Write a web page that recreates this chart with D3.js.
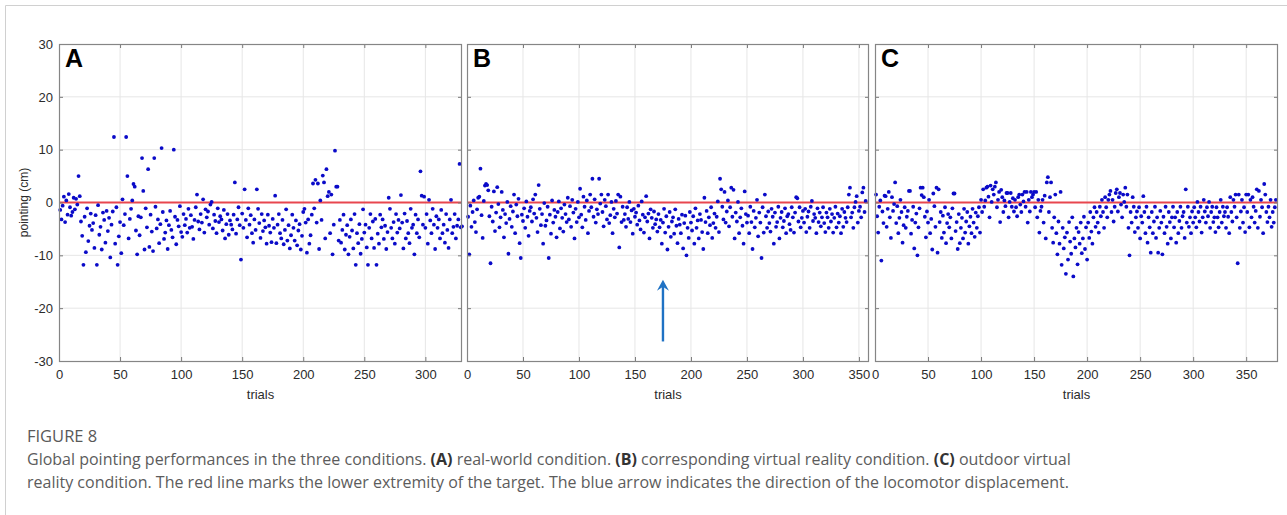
<!DOCTYPE html>
<html>
<head>
<meta charset="utf-8">
<script src="https://cdn.jsdelivr.net/npm/d3@7"></script>
<style>
  body { margin: 0; background: #fff; }
</style>
</head>
<body>
<svg id="fig" width="1287" height="515"></svg>
<script>
// ========= Data (pointing error in cm, one value per trial) ========= //
const pointingA = [
  -1.4, -3.2, -0.6, 1.1, -3.7, 0.4, -2.3, 1.6, -0.9, -2.5,
  -1.8, 0.9, -1.3, 0.7, -0.4, 5, 1.2, -3.6, -6.3, -11.8,
  -2.7, -9.4, -1.1, -7.3, -4.4, -2.1, -5.2, -3.9, -8.6, -2.4,
  -11.8, -0.5, -6.1, -4.6, -8.9, -1.9, -3.3, -7.6, -1.6, -5.4,
  -2.9, -10.4, -4.2, -1.7, 12.4, -7.8, -0.9, -11.8, -6.4, -3.7,
  -9.6, 0.6, -4.3, -2.2, 12.4, 5, -6.8, -3.1, -1.2, 0.4,
  3.5, 3, -5.3, -9.8, -2.6, -6.2, -2.8, 8.4, 2.2, -8.9,
  -1.1, -4.7, 6.3, -8.4, -2.3, -5.5, -9.2, 8.4, -0.8, -4.9,
  -3.2, -7.7, -4.1, 10.3, -1.8, -6.9, -5.7, -3.4, -8.8, -4.3,
  -1.6, -5.2, -6.6, 10, -2.7, -7.9, -3.3, -4.5, -0.7, -5.6,
  -6.5, -2.2, -4.3, -3.1, -5.7, -1.2, -4.8, -2.4, -4.6, -6.9,
  -3.3, -0.9, 1.5, -3.6, -5.1, -2.2, -3.8, 0.6, -5.7, -1.3,
  -2.8, -1.7, -4.2, -0.4, 0.1, -4.9, -2.3, -3.5, -5.8, -1.1,
  -3.7, -2.6, -3.2, -5.3, -1.4, -6.8, -4.1, -2.2, -6.1, -3.4,
  -4.2, -5.1, -2.3, 3.8, -5.9, -3.2, -0.9, -4.3, -10.8, -2.1,
  -4.8, 2.5, -3.3, -6.6, -1.1, -4.2, -2.4, -5.8, -7.6, -3.2,
  -5.2, 2.5, -1.2, -3.9, -6.7, -2.2, -5.4, -3.4, -4.7, -7.8,
  -2.3, -4.4, -5.7, -7.5, -3.1, -4.8, 1.3, -7.7, -4.2, -2.2,
  -5.8, -6.8, -3.3, -7.9, -5.2, -1.3, -7.2, -4.3, -8.7, -6.2,
  -2.3, -4.8, -7.2, -3.4, -8.1, -5.3, -4.1, -8.9, -6.3, -1.8,
  -1.2, -3.8, -9.5, -3.2, -7.8, -6.2, -2.3, 3.6, -1.1, 4.3,
  -3.8, 3.6, -8.8, 0.4, -3.3, 5.1, 3.8, -6.8, 6.3, 1.2,
  2, -5.8, 1.5, -9.8, -4.2, 9.8, 3, 3, -7.2, -3.3,
  -7.6, -5.2, -2.3, -8.9, -6.1, -4.3, -9.8, -6.5, -3.2, -5.3,
  -8.7, -2.2, -11.8, -5.8, -7.7, -4.1, -9.7, -6.9, -1.3, -5.7,
  -4.2, -8.5, -11.8, -4.8, -2.2, -6.8, -3.6, -8.6, -3.1, -11.8,
  -5.9, -7.8, -2.3, -4.7, -3.2, -6.9, -4.4, -8.8, -5.6, 0.9,
  -1.2, -4.8, -6.8, -3.7, -7.8, -2.2, -5.7, -3.3, -4.9, 1.4,
  -3.8, -8.7, -2.1, -6.8, -3.5, -5.8, -7.7, -1.2, -4.8, -4.2,
  -9.8, -2.3, -5.8, -3.2, -6.6, 5.9, 1.3, -4.2, 1.1, -4.8,
  -2.2, -7.8, 0.5, -3.4, -5.8, -1.2, -4.2, -8.8, -2.6, -4.8,
  -3.2, -6.8, -1.4, -5.8, -4.2, -7.6, -2.2, -5.2, -8.6, -3.2,
  0.5, -5.8, -4.6, -2.2, -6.8, -4.4, -3.2, 7.3, -4.7, -4.5
];

const pointingB = [
  -2.7, -9.8, -0.6, -4.6, -1.8, 0.4, -3.7, -5.6, -1.3, 0.9,
  1.1, 6.4, -2.4, -6.7, 0.3, 3.2, 3.5, 3.3, 2.3, -2.6,
  -11.5, -0.8, -3.6, 2.1, -5.4, -1.9, 2.9, -0.3, -4.7, -2.8,
  2, -1.4, -6.6, -2.2, -3.9, 0.1, -9.7, -3.1, -0.7, -4.6,
  -1.7, 1.5, -5.8, -0.4, -2.6, 0.7, -7.7, -10.5, -2.3, -3.5,
  -1.1, -4.8, 0.2, -2.7, -6.3, -1.6, -0.9, -3.6, 0.6, -2.1,
  1.5, -2.9, -5.6, 3.3, -1.2, -4.3, -2.2, -7.8, -0.1, -4.4,
  -3.4, -0.8, -10.5, -2.3, -5.9, 0.4, -3.8, -1.4, -2.7, -6.6,
  -1.8, 0.2, -4.9, -1.1, -2.9, -5.5, -0.4, -2.2, -3.7, 0.9,
  -3.2, -0.7, -4.6, 0.5, -1.9, -6.8, -1.2, -3.7, 0.1, -2.8,
  2.6, -2.3, -4.7, 1.1, -0.8, -3.3, 0.4, -5.8, -1.6, 1.5,
  -0.9, 4.5, -2.7, 0.6, -3.8, -1.3, -2.2, 4.5, -0.2, 1.5,
  -1.8, -4.5, 0.5, -0.7, -3.2, 1.5, -3.9, -2.4, 0.1, -5.8,
  -1.2, -2.8, 0.3, -2.1, 1.5, -8.5, 1.1, -3.7, -0.8, -3.3,
  -2.2, -4.6, -0.9, -3.1, 0.1, -3.7, -1.5, -5.9, -1.2, -2.7,
  -1.9, -4.2, -0.6, -3.4, -5.1, 0.2, -2.3, -5.7, -2.8, 1.2,
  -3.6, -2.1, -6.8, -1.3, -2.9, -4.8, -1.7, -4.1, -3.2, -5.5,
  -2.2, -4.7, -3.3, -7.8, -3.8, -1.2, -5.7, -2.6, -8.9, -4.6,
  -1.8, -6.5, -3.6, -2.8, -5.9, -1.3, -4.4, -7.7, -3.1, -4.2,
  -5.8, -2.3, -8.7, -3.9, -2.5, -10, -4.8, -6.7, -1.8, -3.8,
  -5.3, -2.6, -7.8, -1.1, -4.8, -3.4, -6.8, -2.2, -3.3, -5.6,
  -8.8, 0.9, -3.7, -1.6, -5.8, -2.8, -4.3, -0.9, -6.7, -3.9,
  -2.1, -4.8, -2.7, 0.2, -5.6, 4.5, 2.5, -0.8, -3.2, 2,
  -3.8, -1.7, 0.4, -4.5, -0.9, 2.8, -2.7, 2.4, -6.8, -1.9,
  -3.6, 0.1, -5.8, -2.8, -1.1, -4.4, -7.8, 2.1, -2.2, -3.8,
  -2.5, -5.8, -0.8, -3.7, -8.8, -1.6, -4.7, -2.9, 0.5, -6.4,
  -1.9, -3.8, -10.5, -0.9, -5.7, 1.5, -2.6, -4.8, -1.7, -3.9,
  -5.5, -1.2, -2.7, -7.8, -1.9, -4.6, -3.7, -0.8, -6.8, -2.9,
  -1.8, -4.7, -3.5, -1.1, -5.8, -2.6, -2.2, -4.1, -5.2, -0.9,
  -2.8, -5.7, -1.9, 1, 0.8, -3.6, -0.9, -4.7, -2.9, -1.6,
  -3.8, -1.2, -5.6, -2.7, -1.7, -4.8, -0.8, 0.3, -3.5, -2.2,
  -2.9, -5.8, -1.1, -3.7, -1.9, -4.5, -2.8, -0.9, -3.9, -5.6,
  -1.9, -2.8, -4.8, -1.2, -3.6, -2.2, -5.7, -2.9, -0.8, -4.7,
  -2.1, -3.8, -2.6, -5.8, -1.2, -4.6, -1.8, -2.9, -3.7, -0.9,
  1.5, 2.8, -2.8, -1.9, -4.8, -0.9, 0.1, 1.2, -3.8, -1.6,
  -0.8, -2.8, 1.9, 2.8, -1.8, 0.3
];

const pointingC = [
  1.5, -2.6, -5.7, -0.8, 0.4, -11, -1.7, -3.9, 1.3, 1.2,
  -4.6, -1.2, 2, -2.8, -6.7, 1, -1.6, -0.3, 3.8, -3.9,
  -0.7, -5.8, -2.9, 0.5, -1.8, -7.6, -4.3, -0.9, -4.8, -2.7,
  -1.6, 2.2, 2.2, -5.9, -3.3, -0.8, -8.7, -3.8, -2.1, -10,
  -4.7, -1.1, 2.8, 1.4, 2.8, 1, -2.7, -6.6, -1.7, -3.8,
  0.5, -5.8, -3.1, -8.9, 1.7, -0.7, -4.6, 2.8, -9.5, 2.5,
  -3.7, -1.8, -6.7, -2.5, -5.7, -0.9, -7.7, -3.9, -2.2, -4.7,
  -2.8, -6.8, -1.1, 1.7, 1.7, -5.4, -3.7, -8.8, -2.2, -7.7,
  -4.8, -2.9, -6.8, -1.2, -5.7, -3.6, -1.8, -7.8, -4.5, -2.7,
  -5.8, -1.2, -3.8, -6.5, -1.9, -4.8, -2.6, -0.9, -5.7, 0.5,
  -1.8, 2.5, -0.8, 0.4, 2.8, 3, 1.1, -2.8, 3.2, 0.1,
  2.5, 1.5, 3, 3.8, -0.9, 0.5, 2, -3.7, 2.4, 1,
  -1.8, 0.4, -0.7, 1.8, 1.8, -2.8, 0.1, 1.8, -0.8, 0.8,
  -1.7, 0.5, -0.9, -2.6, 1, 1.5, -0.4, -1.8, 1.5, 0.2,
  2, -0.8, 2, -3.8, 0.5, -1.7, 2, 1, 1.5, 2,
  -0.9, 2, -2.8, 0.5, -5.7, -1.6, -0.8, 0.5, -3.8, 1.3,
  -6.8, 3.8, 4.8, -1.8, 1, 3.8, -4.8, -7.6, -2.8, 1.5,
  -5.8, -9.8, -3.6, -7.8, 2, -11.8, -4.8, -8.7, -6.6, -13.5,
  -5.7, -10.8, -3.7, -7.4, -9.7, -2.8, -14, -6.8, -8.5, -4.8,
  -11.7, -5.6, -7.8, -3.8, -9.6, -6.8, -2.7, -8.8, -4.7, -10.8,
  -3.8, -6.7, -1.8, -5.5, -7.8, -2.8, -0.9, -4.6, -1.8, -3.8,
  -5.7, -0.8, -2.6, 0.5, -1.8, -4.8, 1, -0.9, -2.8, 0.5,
  1.5, 2.2, -1.8, 0.5, -3.6, -0.8, 1.8, 2.5, -1.7, 1,
  1.8, -0.4, -2.8, 1.5, 0.1, 2.8, -0.8, 1.5, -4.8, -10,
  -1.8, -3.8, 1, -0.8, -5.6, -2.8, -1.7, -4.8, -0.9, -6.8,
  -2.6, -3.8, 1.2, -1.8, -5.8, -0.8, -7.6, -2.8, -4.7, -9.5,
  -1.8, -5.8, -3.6, -0.8, -6.7, -2.8, -9.5, -4.8, -1.6, -3.8,
  -9.8, -2.7, -5.8, -0.8, -4.6, -7.8, -1.8, -3.7, -6.8, -2.8,
  -0.8, -4.7, -2.8, -7.6, -1.8, -5.8, -3.5, -0.8, -4.8, -2.6,
  -1.8, -6.7, 2.5, -3.8, -0.8, -4.6, -2.8, -5.8, -1.7, -3.8,
  -0.9, -2.8, -4.7, 0.1, -1.8, -3.6, -0.8, -5.7, -2.8, 0.5,
  -1.7, -3.8, -0.9, -2.6, 0.1, -4.8, -1.8, -0.8, -3.7, -2.8,
  -5.6, -0.9, -2.8, -4.7, -1.8, 0.5, -3.8, -0.8, -2.6, -1.8,
  -4.8, -0.9, -2.7, -5.8, 1, -1.8, -3.6, 0.5, -0.8, 1.5,
  -2.8, -11.5, 1.5, -4.8, -1.7, 0.5, -3.8, -0.9, -5.6, 1.5,
  -1.8, 1.5, -4.7, 0.5, -2.8, 1, -0.8, -3.8, -1.6, 2.5,
  -4.8, 2.2, -2.7, 0.5, -0.9, -5.8, 3.5, 1.5, -1.8, -3.7,
  -0.8, -2.8, 0.5, -4.6, -1.8, -3.8, -0.9, 0.5
];

const panelLetters = ['A', 'B', 'C'];
const trialMax = [330, 359, 380];
const xTicksA = [0, 50, 100, 150, 200, 250, 300];
const xTicksBC = [0, 50, 100, 150, 200, 250, 300, 350];
const yTicks = [-30, -20, -10, 0, 10, 20, 30];
const targetLevel = 0;            // lower extremity of the target (red line)
const arrowTrial = 175;           // blue arrow in panel B
const arrowFrom = -26.3;
const arrowTo = -14.6;

const captionTitle = 'FIGURE 8';
const captionLine1 = [
  ['Global pointing performances in the three conditions. ', false],
  ['(A)', true], [' real-world condition. ', false],
  ['(B)', true], [' corresponding virtual reality condition. ', false],
  ['(C)', true], [' outdoor virtual', false]
];
const captionLine2 = 'reality condition. The red line marks the lower extremity of the target. The blue arrow indicates the direction of the locomotor displacement.';

// ========= Layout ========= //
const panelBox = [
  { left: 59, right: 462 },
  { left: 467, right: 869 },
  { left: 875, right: 1278 }
];
const plotTop = 44;
const plotBottom = 361;
const series = [pointingA, pointingB, pointingC];
const xTickSets = [xTicksA, xTicksBC, xTicksBC];

const svg = d3.select('#fig');
const tickFont = '"Liberation Sans", Arial, sans-serif';

// outer page frame
svg.append('path')
  .attr('d', 'M5.5,530 V5.5 H1300')
  .attr('fill', 'none')
  .attr('stroke', '#d0d0d0')
  .attr('stroke-width', 1);

const y = d3.scaleLinear().domain([-30, 30]).range([plotBottom, plotTop]);

series.forEach((values, i) => {
  const box = panelBox[i];
  const x = d3.scaleLinear().domain([0, trialMax[i]]).range([box.left, box.right]);
  const g = svg.append('g').attr('class', 'panel');

  // ========= Grid ========= //
  g.append('g')
    .selectAll('line')
    .data(xTickSets[i].filter(t => t > 0))
    .join('line')
      .attr('x1', d => x(d)).attr('x2', d => x(d))
      .attr('y1', plotTop).attr('y2', plotBottom)
      .attr('stroke', '#e6e6e6');

  g.append('g')
    .selectAll('line')
    .data(yTicks.filter(t => t > -30 && t < 30))
    .join('line')
      .attr('x1', box.left).attr('x2', box.right)
      .attr('y1', d => y(d)).attr('y2', d => y(d))
      .attr('stroke', '#e6e6e6');

  // ========= Target line ========= //
  g.append('line')
    .attr('x1', box.left).attr('x2', box.right)
    .attr('y1', y(targetLevel)).attr('y2', y(targetLevel))
    .attr('stroke', '#e8464e')
    .attr('stroke-width', 1.8);

  // ========= Points ========= //
  g.append('g')
    .selectAll('circle')
    .data(values)
    .join('circle')
      .attr('cx', (d, k) => x(k + 1))
      .attr('cy', d => y(d))
      .attr('r', 1.9)
      .attr('fill', '#0a0ac8');

  // ========= Axes (ticks inside, MATLAB style) ========= //
  g.append('g')
    .attr('transform', `translate(0,${plotBottom})`)
    .call(d3.axisBottom(x).tickValues(xTickSets[i]).tickSize(-4).tickPadding(9));
  g.append('g')
    .attr('transform', `translate(0,${plotTop})`)
    .call(d3.axisTop(x).tickValues(xTickSets[i]).tickSize(-4).tickFormat(''));
  g.append('g')
    .attr('transform', `translate(${box.left},0)`)
    .call(d3.axisLeft(y).tickValues(yTicks).tickSize(-4).tickPadding(6)
      .tickFormat(d => i === 0 ? (d < 0 ? '-' + Math.abs(d) : String(d)) : ''));
  g.append('g')
    .attr('transform', `translate(${box.right},0)`)
    .call(d3.axisRight(y).tickValues(yTicks).tickSize(-4).tickFormat(''));

  g.selectAll('.domain').remove();
  g.selectAll('.tick line').attr('stroke', '#7a7a7a');
  g.selectAll('.tick text')
    .attr('fill', '#2b2b2b')
    .attr('font-family', tickFont)
    .attr('font-size', '13px');

  // frame
  g.append('rect')
    .attr('x', box.left + 0.5).attr('y', plotTop + 0.5)
    .attr('width', box.right - box.left - 1).attr('height', plotBottom - plotTop)
    .attr('fill', 'none')
    .attr('stroke', '#858585')
    .attr('stroke-width', 1.2);

  // panel letter
  g.append('text')
    .attr('x', box.left + 6)
    .attr('y', plotTop + 23)
    .attr('font-family', tickFont)
    .attr('font-weight', 'bold')
    .attr('font-size', '25px')
    .attr('fill', '#000')
    .text(panelLetters[i]);

  // x label
  g.append('text')
    .attr('x', (box.left + box.right) / 2)
    .attr('y', 399)
    .attr('text-anchor', 'middle')
    .attr('font-family', tickFont)
    .attr('font-size', '13px')
    .attr('fill', '#2b2b2b')
    .text('trials');

  // ========= Locomotion arrow (panel B) ========= //
  if (i === 1) {
    const ax = x(arrowTrial);
    g.append('line')
      .attr('x1', ax).attr('x2', ax)
      .attr('y1', y(arrowFrom)).attr('y2', y(arrowTo) + 6)
      .attr('stroke', '#1f72c4')
      .attr('stroke-width', 2.4);
    g.append('path')
      .attr('d', `M${ax},${y(arrowTo)} L${ax - 6},${y(arrowTo) + 11} L${ax},${y(arrowTo) + 7} L${ax + 6},${y(arrowTo) + 11} Z`)
      .attr('fill', '#1f72c4');
  }
});

// y label
svg.append('text')
  .attr('transform', `translate(28,${y(0)}) rotate(-90)`)
  .attr('text-anchor', 'middle')
  .attr('font-family', tickFont)
  .attr('font-size', '12px')
  .attr('fill', '#2b2b2b')
  .text('pointing (cm)');

// ========= Caption ========= //
const capFont = '"Open Sans", Lato, sans-serif';
svg.append('text')
  .attr('x', 27).attr('y', 442)
  .attr('font-family', capFont)
  .attr('font-size', '16.5px')
  .attr('fill', '#595959')
  .text(captionTitle);

const line1 = svg.append('text')
  .attr('x', 27).attr('y', 465)
  .attr('font-family', capFont)
  .attr('font-size', '16px')
  .attr('fill', '#5c5c5c');
line1.selectAll('tspan')
  .data(captionLine1)
  .join('tspan')
    .attr('font-weight', d => d[1] ? 'bold' : 'normal')
    .attr('fill', d => d[1] ? '#333' : '#5c5c5c')
    .text(d => d[0]);

svg.append('text')
  .attr('x', 27).attr('y', 488)
  .attr('font-family', capFont)
  .attr('font-size', '16px')
  .attr('fill', '#5c5c5c')
  .text(captionLine2);
</script>
</body>
</html>
